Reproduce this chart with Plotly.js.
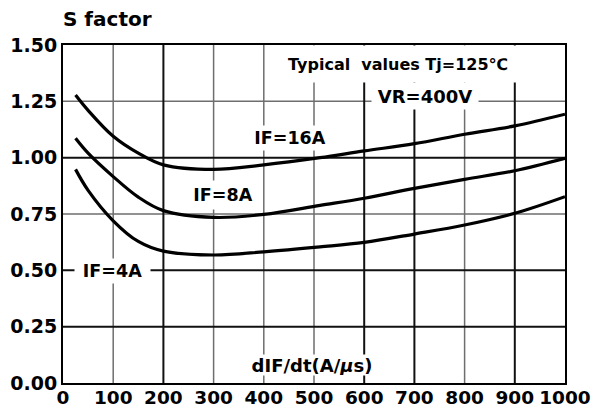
<!DOCTYPE html>
<html>
<head>
<meta charset="utf-8">
<script src="https://cdn.plot.ly/plotly-3.0.1.min.js"></script>
<style>html,body{margin:0;padding:0;background:#fff;}#chart{width:594px;height:410px;}</style>
</head>
<body>
<div id="chart"></div>
<script>
// dIF/dt (A/us)
const xIF16 = [25, 50, 100, 150, 200, 300, 400, 512, 600, 700, 800, 900, 1000];
const yIF16 = [1.278, 1.21, 1.095, 1.02, 0.968, 0.948, 0.968, 1.0, 1.03, 1.062, 1.104, 1.141, 1.193];
const xIF8 = [25, 50, 100, 150, 200, 300, 400, 512, 600, 700, 800, 900, 1000];
const yIF8 = [1.086, 1.02, 0.916, 0.825, 0.765, 0.735, 0.748, 0.788, 0.82, 0.864, 0.904, 0.942, 0.997];
const xIF4 = [25, 50, 100, 150, 200, 300, 400, 512, 600, 700, 800, 900, 1000];
const yIF4 = [0.948, 0.855, 0.72, 0.628, 0.585, 0.568, 0.582, 0.604, 0.624, 0.661, 0.701, 0.753, 0.827];

const xTicks = [0, 100, 200, 300, 400, 500, 600, 700, 800, 900, 1000];
const yTicks = [0, 0.25, 0.5, 0.75, 1.0, 1.25, 1.5];
const yTickText = ['0.00', '0.25', '0.50', '0.75', '1.00', '1.25', '1.50'];
const gridXDark = [200, 600, 700, 900];
const gridXLight = [100, 300, 400, 500, 800];
const gridYDark = [0.25, 0.5, 1.0];
const gridYLight = [0.75, 1.25];

const FONT = 'DejaVu Sans, Arial, sans-serif';
const lineStyle = {color: '#000', width: 3.2, shape: 'spline', smoothing: 1};

const traces = [
  {x: xIF16, y: yIF16, mode: 'lines', line: lineStyle, name: 'IF=16A', hoverinfo: 'skip'},
  {x: xIF8, y: yIF8, mode: 'lines', line: lineStyle, name: 'IF=8A', hoverinfo: 'skip'},
  {x: xIF4, y: yIF4, mode: 'lines', line: lineStyle, name: 'IF=4A', hoverinfo: 'skip'}
];

const shapes = [];
gridXLight.forEach(v => shapes.push({type: 'line', xref: 'x', yref: 'paper', x0: v, x1: v, y0: 0, y1: 1, layer: 'below', line: {color: '#6e6e6e', width: 1.5}}));
gridYLight.forEach(v => shapes.push({type: 'line', xref: 'paper', yref: 'y', x0: 0, x1: 1, y0: v, y1: v, layer: 'below', line: {color: '#6e6e6e', width: 1.5}}));
gridXDark.forEach(v => shapes.push({type: 'line', xref: 'x', yref: 'paper', x0: v, x1: v, y0: 0, y1: 1, layer: 'below', line: {color: '#111', width: 2}}));
gridYDark.forEach(v => shapes.push({type: 'line', xref: 'paper', yref: 'y', x0: 0, x1: 1, y0: v, y1: v, layer: 'below', line: {color: '#111', width: 2}}));

function lab(text, x, y, size, w, h) {
  return {text: text, x: x, y: y, xref: 'x', yref: 'y', showarrow: false,
    font: {family: FONT, size: size, color: '#000', weight: 'bold'},
    bgcolor: '#fff', width: w, height: h, borderpad: 0, xanchor: 'center', yanchor: 'middle'};
}

const annotations = [
  lab('Typical\u00a0 values Tj=125\u2103', 667, 1.414, 16, 250, 36),
  lab('VR=400V', 721, 1.272, 18, 106, 26),
  lab('IF=16A', 452, 1.087, 17.5, 80, 24),
  lab('IF=8A', 318, 0.834, 17.5, 72, 28),
  lab('IF=4A', 98.6, 0.497, 17.5, 75, 24),
  lab('dIF/dt(A/<i>\u03bc</i>s)', 496, 0.08, 18, 128, 20)
];

const layout = {
  width: 594, height: 410,
  margin: {l: 63, r: 29, t: 45, b: 27, pad: 0},
  paper_bgcolor: '#fff', plot_bgcolor: '#fff',
  showlegend: false,
  title: {text: 'S factor', x: 63/594, xref: 'container', xanchor: 'left', y: 1 - 19/410, yref: 'container', yanchor: 'middle',
    font: {family: FONT, size: 20, color: '#000', weight: 'bold'}},
  xaxis: {range: [0, 1000], tickvals: xTicks, ticktext: xTicks.map(String), showgrid: false, zeroline: false,
    showline: true, linecolor: '#000', linewidth: 2, mirror: true, ticks: '', ticklen: 0, ticklabelstandoff: -3,
    tickfont: {family: FONT, size: 18.5, color: '#000', weight: 'bold'}, fixedrange: true},
  yaxis: {range: [0, 1.5], tickvals: yTicks, ticktext: yTickText, showgrid: false, zeroline: false,
    showline: true, linecolor: '#000', linewidth: 2, mirror: true, ticks: '', ticklen: 0,
    tickfont: {family: FONT, size: 19, color: '#000', weight: 'bold'}, fixedrange: true},
  shapes: shapes,
  annotations: annotations
};

Plotly.newPlot('chart', traces, layout, {displayModeBar: false, staticPlot: true});
</script>
</body>
</html>
